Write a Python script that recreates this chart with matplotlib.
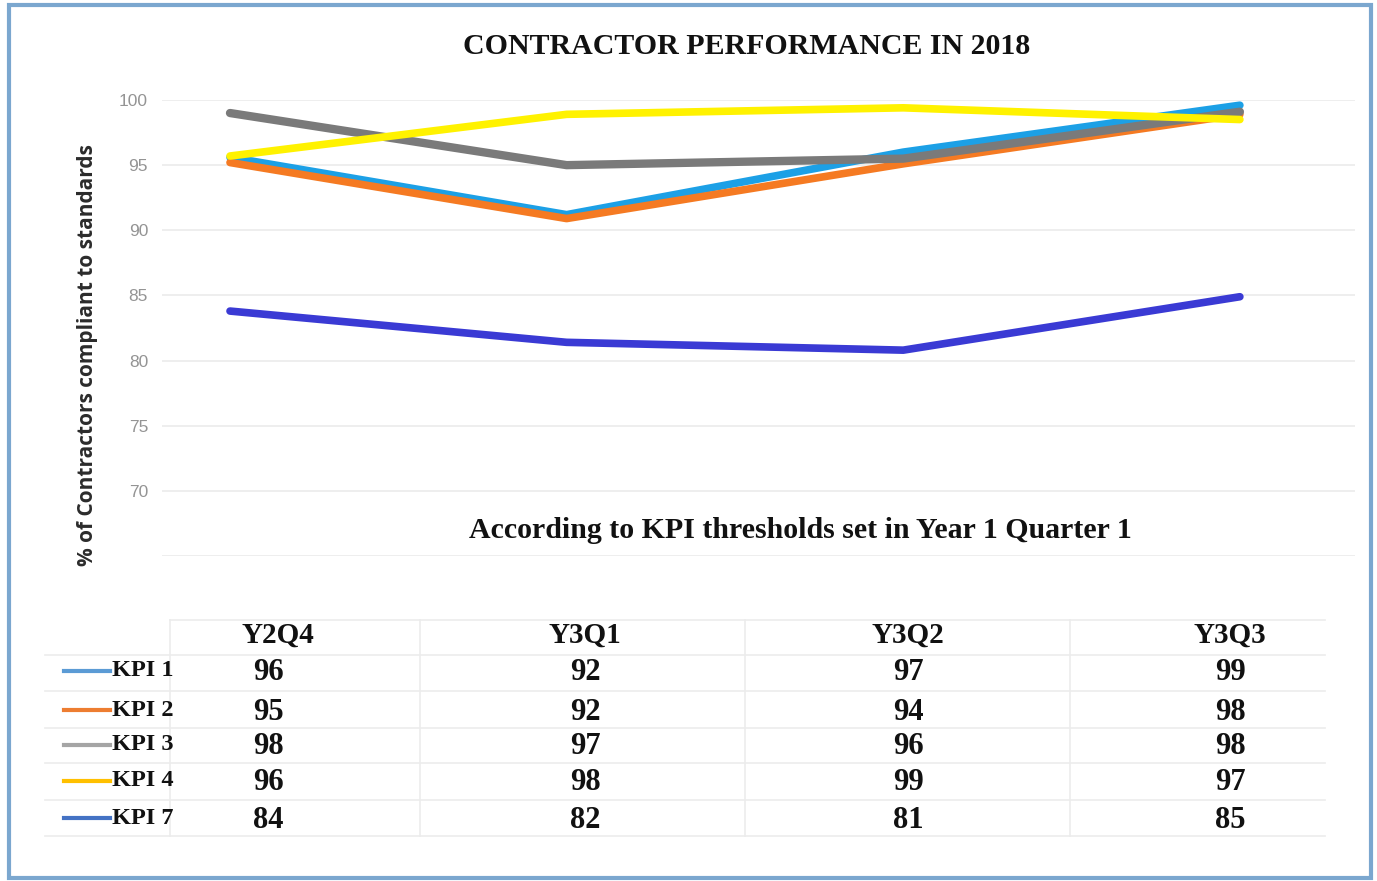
import matplotlib
matplotlib.use("Agg")
import matplotlib.pyplot as plt
from matplotlib.patches import Rectangle
from matplotlib.lines import Line2D

W, H = 1377, 881

# categories and series
quarters = ["Y2Q4", "Y3Q1", "Y3Q2", "Y3Q3"]
kpi_names = ["KPI 1", "KPI 2", "KPI 3", "KPI 4", "KPI 7"]

# values as drawn by the lines
line_kpi1 = [95.6, 91.2, 96.0, 99.6]
line_kpi2 = [95.2, 90.9, 95.1, 98.9]
line_kpi3 = [99.0, 95.0, 95.5, 99.1]
line_kpi4 = [95.7, 98.9, 99.4, 98.5]
line_kpi7 = [83.8, 81.4, 80.8, 84.9]

# values printed in the data table
table_kpi1 = [96, 92, 97, 99]
table_kpi2 = [95, 92, 94, 98]
table_kpi3 = [98, 97, 96, 98]
table_kpi4 = [96, 98, 99, 97]
table_kpi7 = [84, 82, 81, 85]

line_colors = ["#1ca0e6", "#f57a22", "#7a7a7a", "#fff200", "#3a3ad4"]
legend_colors = ["#5b9bd5", "#ed7d31", "#a5a5a5", "#ffc000", "#4472c4"]

lines = [line_kpi1, line_kpi2, line_kpi3, line_kpi4, line_kpi7]
table = [table_kpi1, table_kpi2, table_kpi3, table_kpi4, table_kpi7]


def fx(x):
    return x / W


def fy(y):
    return 1 - y / H


fig = plt.figure(figsize=(W / 100, H / 100), dpi=100)

# outer frame
fig.patches.append(Rectangle((fx(9), fy(878)), fx(1362), 873 / H, transform=fig.transFigure,
                             fill=False, edgecolor="#7ba7cf", linewidth=3))

# plot area: y 65 -> pixel 556, y 100 -> pixel 100
left, right, top, bottom = 162, 1355, 100, 556
ax = fig.add_axes([fx(left), fy(bottom), (right - left) / W, (bottom - top) / H])
ax.set_ylim(65, 100)
ax.set_xlim(-0.202, 3.342)
ax.set_yticks([65, 70, 75, 80, 85, 90, 95, 100])
ax.set_yticklabels(["", "70", "75", "80", "85", "90", "95", "100"])
ax.set_xticks([])
ax.tick_params(axis="y", length=0, pad=10, labelsize=12.5, labelcolor="#949494")
for lab in ax.get_yticklabels():
    lab.set_family("Liberation Sans")
ax.grid(axis="y", color="#ededed", linewidth=1.3)
for s in ax.spines.values():
    s.set_visible(False)

x = list(range(len(quarters)))
order = [4, 0, 1, 2, 3]
widths = [5.5, 5.5, 6, 5.5, 5.5]
for i in order:
    ax.plot(x, lines[i], color=line_colors[i], linewidth=widths[i],
            solid_capstyle="round", clip_on=False, zorder=3 + i)

# titles
fig.text(fx(747), fy(46), "CONTRACTOR PERFORMANCE IN 2018", ha="center", va="center",
         fontsize=21.5, fontweight="bold", family="Liberation Serif", color="#111111")
fig.text(fx(800), fy(530), "According to KPI thresholds set in Year 1 Quarter 1", ha="center",
         va="center", fontsize=21.5, fontweight="bold", family="Liberation Serif", color="#111111")
fig.text(fx(88), fy(355), "% of Contractors compliant to standards", rotation=90, ha="center",
         va="center", fontsize=15, fontweight="bold", family="Open Sans", color="#2b2b2b")

# data table
head_x = [278, 585, 908, 1230]
val_x = [268, 585, 908, 1230]
head_y = 635
row_y = [673, 712, 747, 783, 820]

grid_col = "#ececec"
for yy in [620, 655, 691, 728, 763, 800, 836]:
    x0 = 170 if yy == 620 else 45
    fig.add_artist(Line2D([fx(x0), fx(1325)], [fy(yy), fy(yy)], color=grid_col, linewidth=1.2))
for xx in [170, 420, 745, 1070]:
    fig.add_artist(Line2D([fx(xx), fx(xx)], [fy(620), fy(836)], color=grid_col, linewidth=1.2))

for q, hx in zip(quarters, head_x):
    fig.text(fx(hx), fy(head_y), q, ha="center", va="center", fontsize=21,
             fontweight="bold", family="Liberation Serif", color="#111111")

for r, name in enumerate(kpi_names):
    yy = row_y[r]
    fig.add_artist(Line2D([fx(64), fx(110)], [fy(yy - 2), fy(yy - 2)],
                          color=legend_colors[r], linewidth=3))
    fig.text(fx(112), fy(yy - 2), name, ha="left", va="center", fontsize=17.5,
             fontweight="bold", family="Liberation Serif", color="#111111")
    for c, v in enumerate(table[r]):
        fig.text(fx(val_x[c]), fy(yy), str(v), ha="center", va="center", fontsize=22,
                 fontweight="bold", family="Liberation Serif", color="#111111")

fig.savefig("out.png", dpi=100, facecolor="white")
